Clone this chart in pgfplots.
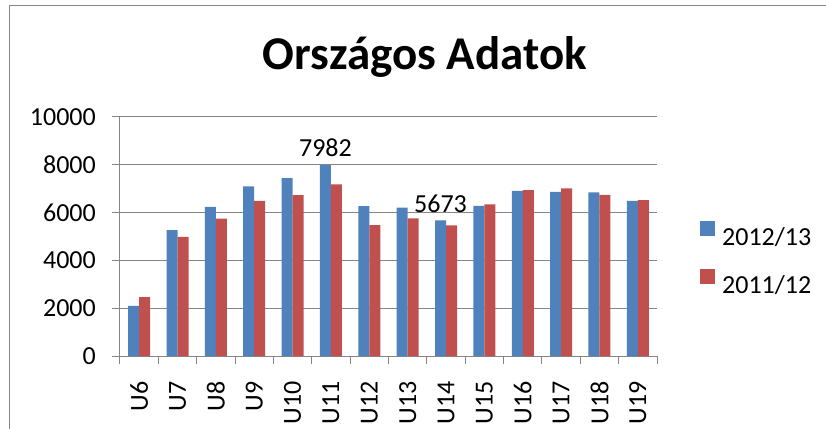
\documentclass[border=0pt]{standalone}
\usepackage{fontspec}
\setmainfont{Carlito}
\usepackage{pgfplots}
\pgfplotsset{compat=1.18}
\definecolor{cblue}{HTML}{4F81BD}
\definecolor{cred}{HTML}{C0504D}
\definecolor{cgrid}{HTML}{868686}
\newcommand{\lf}{\fontsize{26bp}{31bp}\selectfont}
\begin{document}
\begin{tikzpicture}
\useasboundingbox (-120bp,-73bp) rectangle (706bp,356bp);
\draw[cgrid, line width=1bp] (-110bp,-80bp) -- (-110bp,350bp) -- (720bp,350bp);
\begin{axis}[
  at={(0,0)}, anchor=south west,
  scale only axis, width=537bp, height=239bp,
  xmin=-0.5, xmax=13.5, ymin=0, ymax=10000,
  ytick={0,2000,...,10000},
  scaled y ticks=false,
  xtick={-0.5,0.5,...,13.5},
  x tick label as interval,
  xticklabels={U6,U7,U8,U9,U10,U11,U12,U13,U14,U15,U16,U17,U18,U19},
  /pgf/number format/assume math mode=true,
  /pgf/number format/1000 sep={},
  ymajorgrids, grid style={cgrid, line width=1bp},
  axis lines*=left, axis line style={cgrid, line width=1bp, -},
  tick align=outside, major tick length=8bp,
  tick style={cgrid, line width=1bp},
  x tick label style={yshift=-17bp, rotate=90, anchor=east, font=\lf, inner sep=0pt},
  y tick label style={font=\lf, inner sep=0pt, anchor=east, xshift=-16bp},
  ybar=0pt, bar width=11bp,
  legend style={at={(1.08,0.41)}, anchor=west, draw=none, fill=none, font=\lf,
    inner sep=0pt, row sep=22bp, nodes={inner sep=0pt},
    /tikz/every odd column/.append style={column sep=7bp}},
  legend cell align=left,
]
\addplot[fill=cblue, draw=none, bar shift=-5.5bp,
  legend image code/.code={\fill[cblue] (0bp,0.9bp) rectangle (15bp,15.9bp);}]
  coordinates {(0,2100) (1,5270) (2,6240) (3,7100) (4,7440) (5,7982) (6,6270)
               (7,6210) (8,5673) (9,6280) (10,6910) (11,6870) (12,6850) (13,6490)};
\addlegendentry{2012/13}
\addplot[fill=cred, draw=none, bar shift=5.5bp,
  legend image code/.code={\fill[cred] (0bp,0.9bp) rectangle (15bp,15.9bp);}]
  coordinates {(0,2460) (1,4980) (2,5750) (3,6490) (4,6730) (5,7180) (6,5480)
               (7,5760) (8,5470) (9,6340) (10,6940) (11,7010) (12,6740) (13,6520)};
\addlegendentry{2011/12}
\addplot[draw=none, fill=none, bar shift=-5.5bp, forget plot,
  point meta=explicit symbolic, nodes near coords,
  every node near coord/.append style={font=\lf, inner sep=0pt, anchor=south, yshift=8bp}]
  coordinates {(5,7982) [7982] (8,5673) [5673]};
\end{axis}
\node[font=\fontsize{47bp}{56bp}\selectfont\bfseries, anchor=base] at (305bp,286bp) {Országos Adatok};
\end{tikzpicture}
\end{document}
